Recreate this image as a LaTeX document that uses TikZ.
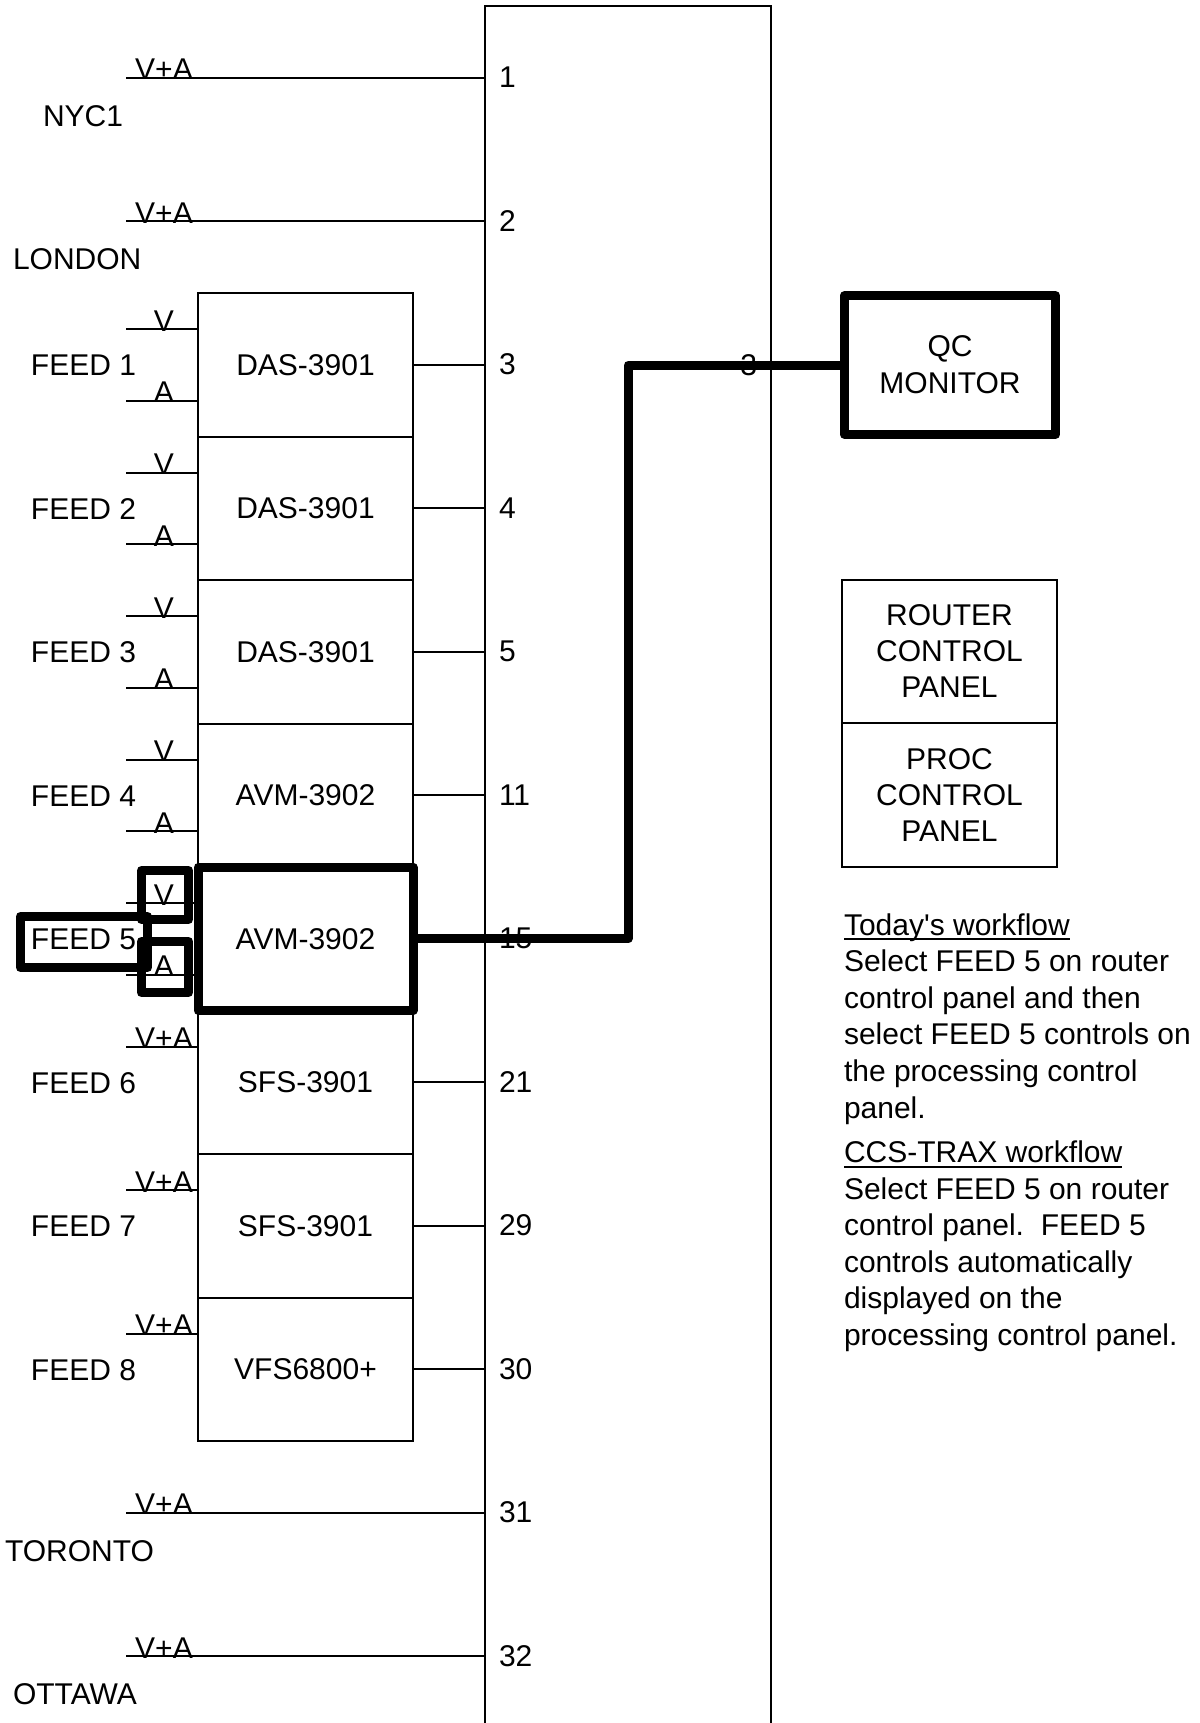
\documentclass[tikz,border=0pt]{standalone}
\usepackage{fontspec}
\setmainfont{Liberation Sans}
\newcommand{\ulx}[1]{\setbox0\hbox{#1}\rlap{\rule[-2.5pt]{\wd0}{1pt}}\box0}
\begin{document}
\begin{tikzpicture}[x=0.5pt,y=-0.5pt,
  every node/.style={font=\fontsize{15pt}{18pt}\selectfont, inner sep=0pt, outer sep=0pt},
  wire/.style={line width=1pt},
  bold/.style={line width=4.5pt, line join=round},
  modbox/.style={draw, line width=1pt, minimum width=107.5pt, minimum height=71.75pt},
  hlbox/.style={draw, line width=4.5pt, line join=round},
  tag/.style={anchor=base},
  lab/.style={anchor=base west},
  panelbox/.style={draw, line width=1pt, minimum width=107.5pt, align=center},
  note/.style={anchor=base west, font=\fontsize{15pt}{18pt}\selectfont}
]
\useasboundingbox (0,0) rectangle (1199,1723);
\fill[white] (0,0) rectangle (1199,1723);
\clip (0,0) rectangle (1199,1723);

% router frame
\coordinate (rbl) at (485,1740);
\coordinate (rtl) at (485,6);
\coordinate (rtr) at (771,6);
\coordinate (rbr) at (771,1740);
\draw[wire] (rbl) -- (rtl) -- (rtr) -- (rbr);

% processing modules
\foreach \i/\t in {1/DAS-3901,2/DAS-3901,3/DAS-3901,4/AVM-3902,5/AVM-3902,6/SFS-3901,7/SFS-3901,8/VFS6800+}
  \node[modbox] (m\i) at (305.5,{221.25+143.5*\i}) {\t};

% module outputs to router
\foreach \i/\p in {1/3,2/4,3/5,4/11,5/15,6/21,7/29,8/30}{
  \draw[wire] (m\i.east) -- (m\i.east -| rtl);
  \node[lab] (p\i) at ([shift={(14,10)}] m\i.east -| rtl) {\p};
}

% feed inputs with separate V and A
\foreach \i in {1,...,5}{
  \coordinate (v\i) at (126,{221.25+143.5*\i-35.75});
  \coordinate (a\i) at (126,{221.25+143.5*\i+35.75});
  \draw[wire] (v\i) -- (v\i -| m\i.west);
  \draw[wire] (a\i) -- (a\i -| m\i.west);
  \node[tag] (vt\i) at ([shift={(38,2)}] v\i) {V};
  \node[tag] (at\i) at ([shift={(38,2)}] a\i) {A};
}
% feed inputs with V+A
\foreach \i in {6,7,8}{
  \coordinate (v\i) at (126,{221.25+143.5*\i-35.75});
  \draw[wire] (v\i) -- (v\i -| m\i.west);
  \node[tag] (vt\i) at ([shift={(38,2)}] v\i) {V+A};
}
% feed names
\foreach \i in {1,...,8}
  \node[lab] (f\i) at (31,{221.25+143.5*\i+11}) {FEED \i};

% direct sources
\foreach \pn/\py/\lx/\lt in {1/77.75/43/NYC1,2/221.25/13/LONDON,31/1512.75/5/TORONTO,32/1656.25/13/OTTAWA}{
  \coordinate (s\pn) at (126,\py);
  \draw[wire] (s\pn) -- (s\pn -| rtl);
  \node[tag] (st\pn) at ([shift={(38,2)}] s\pn) {V+A};
  \node[lab] (sp\pn) at ([shift={(14,10)}] s\pn -| rtl) {\pn};
  \node[lab] (sn\pn) at (\lx,{\py+48.5}) {\lt};
}

% router output label
\node[anchor=base east] (out3) at (757,375) {3};

% QC monitor
\node[draw, line width=4.5pt, line join=round, minimum width=105.75pt, minimum height=69.25pt,
      align=center, font=\fontsize{15pt}{18.5pt}\selectfont] (qc) at (950,365) {QC\\MONITOR};

% control panels
\node[panelbox, minimum height=71.5pt] (rcp) at (949.5,651.5) {ROUTER\\CONTROL\\PANEL};
\node[panelbox, minimum height=72pt, anchor=north] (pcp) at (rcp.south) {PROC\\CONTROL\\PANEL};

% highlights
\draw[bold] (m5.north west) rectangle (m5.south east);
\node[hlbox, minimum width=23.5pt, minimum height=24.5pt] (hv) at (165,895) {};
\node[hlbox, minimum width=23.5pt, minimum height=25.5pt] (ha) at (165,967) {};
\node[hlbox, minimum width=63.5pt, minimum height=25.5pt] (hf) at (84,942) {};

% thick route to QC monitor
\coordinate (jog) at (628,650);
\draw[bold] (m5.east) -- (m5.east -| jog) |- (qc.west);

% workflow notes
\node[note] (n1) at (844,935) {\ulx{Today\textquotesingle s workflow}};
\node[note] (n2) at (844,971.6) {Select FEED 5 on router};
\node[note] (n3) at (844,1008.2) {control panel and then};
\node[note] (n4) at (844,1044.8) {select FEED 5 controls on};
\node[note] (n5) at (844,1081.4) {the processing control};
\node[note] (n6) at (844,1118) {panel.};
\node[note] (n7) at (844,1162.5) {\ulx{CCS-TRAX workflow}};
\node[note] (n8) at (844,1199) {Select FEED 5 on router};
\node[note] (n9) at (844,1235.5) {control panel.\ \ FEED 5};
\node[note] (n10) at (844,1272) {controls automatically};
\node[note] (n11) at (844,1308.5) {displayed on the};
\node[note] (n12) at (844,1345) {processing control panel.};
\end{tikzpicture}
\end{document}
